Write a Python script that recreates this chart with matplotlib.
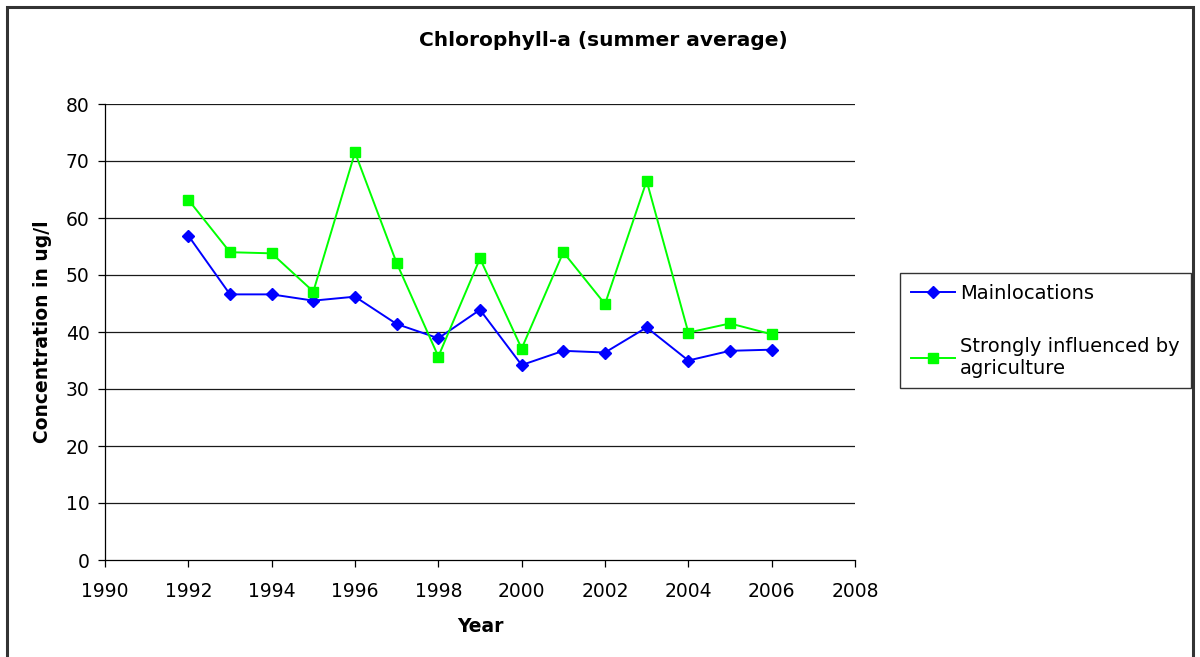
import matplotlib
matplotlib.use("Agg")
import matplotlib.pyplot as plt
from matplotlib.patches import Rectangle

# Summer-average chlorophyll-a concentrations (ug/l)
years = [1992, 1993, 1994, 1995, 1996, 1997, 1998, 1999,
         2000, 2001, 2002, 2003, 2004, 2005, 2006]
mainlocations = [56.9, 46.6, 46.6, 45.5, 46.2, 41.4, 38.9, 43.9,
                 34.2, 36.7, 36.4, 40.8, 35.0, 36.7, 36.9]
agriculture = [63.2, 54.0, 53.8, 47.1, 71.5, 52.1, 35.7, 52.9,
               37.1, 54.0, 44.9, 66.5, 39.9, 41.5, 39.6]

x_ticks = list(range(1990, 2009, 2))
y_ticks = list(range(0, 81, 10))

plt.rcParams["font.family"] = ["DejaVu Sans"]

fig = plt.figure(figsize=(12, 6.57), dpi=100)
fig.patch.set_facecolor("white")

# outer chart frame
fig.add_artist(Rectangle((7 / 1200, -0.05), 1186 / 1200, 1.05 - 7 / 657,
                         transform=fig.transFigure, fill=False,
                         edgecolor="#333333", linewidth=2.2))

ax = fig.add_axes([105 / 1200, 1 - 560 / 657, 750 / 1200, 456 / 657])
ax.set_xlim(1990, 2008)
ax.set_ylim(0, 80)
ax.set_xticks(x_ticks)
ax.set_yticks(y_ticks)

for v in y_ticks[1:]:
    ax.axhline(v, color="#1a1a1a", linewidth=0.9, zorder=1)

for side in ("top", "right"):
    ax.spines[side].set_visible(False)
for side in ("left", "bottom"):
    ax.spines[side].set_color("black")
    ax.spines[side].set_linewidth(0.9)

ax.tick_params(axis="both", direction="out", length=5, width=0.9,
               labelsize=13.5, colors="black")
ax.tick_params(axis="y", pad=6)
ax.tick_params(axis="x", pad=11)

l1, = ax.plot(years, mainlocations, color="#0000FF", linewidth=1.4,
              marker="D", markersize=6.5, markerfacecolor="#0000FF",
              markeredgecolor="#0000FF", zorder=3, label="Mainlocations")
l2, = ax.plot(years, agriculture, color="#00FF00", linewidth=1.4,
              marker="s", markersize=7, markerfacecolor="#00FF00",
              markeredgecolor="#00FF00", zorder=3,
              label="Strongly influenced by\nagriculture")

ax.set_xlabel("Year", fontsize=13.5, fontweight="bold", labelpad=11)
ax.set_ylabel("Concentration in ug/l", fontsize=13.5, fontweight="bold",
              labelpad=10)

fig.text(603 / 1200, 1 - 40 / 657, "Chlorophyll-a (summer average)",
         ha="center", va="center", fontsize=14.5, fontweight="bold")

leg = fig.legend(handles=[l1, l2], loc="upper left",
                 bbox_to_anchor=(900 / 1200, 1 - 273 / 657),
                 fontsize=14.0, frameon=True, fancybox=False,
                 edgecolor="black", labelspacing=1.75, handlelength=2.3,
                 handletextpad=0.25, borderpad=0.55, borderaxespad=0)
leg.get_frame().set_linewidth(1.0)

fig.savefig("out.png", dpi=100, facecolor="white")
